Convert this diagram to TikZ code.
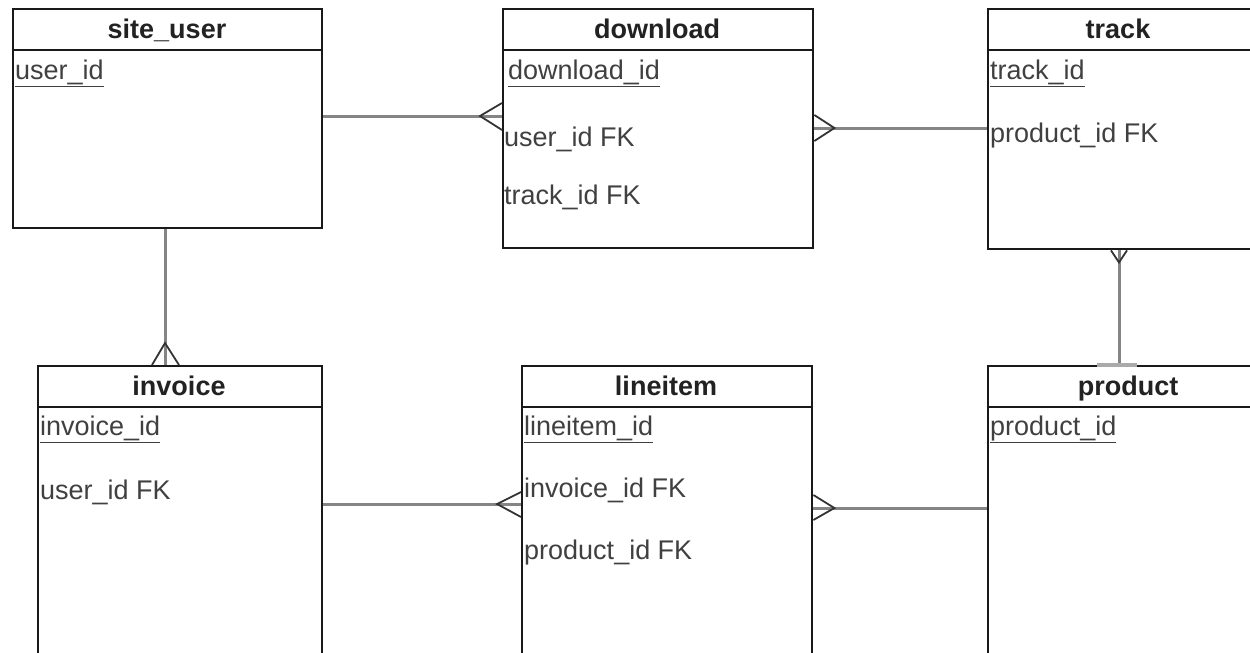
\documentclass[tikz,border=0pt]{standalone}
\usepackage{fontspec}
\setmainfont{Liberation Sans}
\usetikzlibrary{calc}
\definecolor{conngray}{HTML}{858585}
\definecolor{fieldtxt}{HTML}{404040}
\definecolor{titletxt}{HTML}{222222}
\begin{document}
\begin{tikzpicture}[x=1pt,y=-1pt,
  tbl/.style={draw=black!90, line width=2.4pt, fill=white, inner sep=0pt, anchor=north west},
  ttl/.style={font=\fontsize{27}{32}\selectfont\bfseries, text=titletxt, inner sep=0pt, anchor=base},
  fld/.style={font=\fontsize{27}{32}\selectfont, text=fieldtxt, inner sep=0pt, anchor=base west},
  conn/.style={draw=conngray, line width=3pt},
  crow/.style={draw=black!80, line width=1.8pt, line join=miter},
  onebar/.style={draw=conngray!70, line width=3.5pt}]
\useasboundingbox (0,0) rectangle (1250,653);
\begin{scope}
\clip (0,0) rectangle (1250,653);
% tables
\node[tbl, minimum width=309pt, minimum height=219pt] (su) at (12,8) {};
\node[tbl, minimum width=310pt, minimum height=239pt] (dl) at (502,8) {};
\node[tbl, minimum width=280pt, minimum height=240pt] (tr) at (987,8) {};
\node[tbl, minimum width=284pt, minimum height=300pt] (inv) at (37,365) {};
\node[tbl, minimum width=290pt, minimum height=300pt] (li) at (521,365) {};
\node[tbl, minimum width=280pt, minimum height=300pt] (pr) at (987,365) {};
% header separators
\foreach \t in {su,dl,tr,inv,li,pr}{
  \draw[line width=2.4pt, black!90] ($(\t.north west)+(0,42)$) -- ($(\t.north east)+(0,42)$);
}
% titles
\node[ttl] (su-t) at (167,38) {site\_user};
\node[ttl] (dl-t) at (657,38) {download};
\node[ttl] (tr-t) at (1118,38) {track};
\node[ttl] (inv-t) at (179,395) {invoice};
\node[ttl] (li-t) at (666,395) {lineitem};
\node[ttl] (pr-t) at (1128,395) {product};
% fields
\node[fld] (su-f1) at (15,79) {\underline{user\_id}};
\node[fld] (dl-f1) at (508,79) {\underline{download\_id}};
\node[fld] (dl-f2) at (504,146) {user\_id FK};
\node[fld] (dl-f3) at (504,204) {track\_id FK};
\node[fld] (tr-f1) at (990,79) {\underline{track\_id}};
\node[fld] (tr-f2) at (990,142) {product\_id FK};
\node[fld] (inv-f1) at (40,435) {\underline{invoice\_id}};
\node[fld] (inv-f2) at (40,499) {user\_id FK};
\node[fld] (li-f1) at (524,435) {\underline{lineitem\_id}};
\node[fld] (li-f2) at (524,497) {invoice\_id FK};
\node[fld] (li-f3) at (524,559) {product\_id FK};
\node[fld] (pr-f1) at (990,435) {\underline{product\_id}};
% reference levels
\coordinate (ya) at (0,116);
\coordinate (yb) at (0,128);
\coordinate (yc) at (0,504);
\coordinate (yd) at (0,508);
\coordinate (xa) at (1119,0);
\coordinate (xb) at (165,0);
% connectors
\draw[conn] (su.east |- ya) -- (dl.west |- ya);
\draw[conn] (dl.east |- yb) -- (tr.west |- yb);
\draw[conn] (tr.south -| xa) -- (pr.north -| xa);
\draw[conn] (su.south -| xb) -- (inv.north -| xb);
\draw[conn] (inv.east |- yc) -- (li.west |- yc);
\draw[conn] (li.east |- yd) -- (pr.west |- yd);
% crow's feet
\draw[crow] ($(dl.west |- ya)+(0,-13)$) -- ($(dl.west |- ya)+(-22,0)$) -- ($(dl.west |- ya)+(0,14)$);
\draw[crow] ($(dl.east |- yb)+(0,-13)$) -- ($(dl.east |- yb)+(20,0)$) -- ($(dl.east |- yb)+(0,13)$);
\draw[crow] ($(tr.south -| xa)+(-8,0)$) -- ($(tr.south -| xa)+(0,12)$) -- ($(tr.south -| xa)+(8,0)$);
\draw[crow] ($(inv.north -| xb)+(-13,0)$) -- ($(inv.north -| xb)+(0,-22)$) -- ($(inv.north -| xb)+(14,0)$);
\draw[crow] ($(li.west |- yc)+(0,-12)$) -- ($(li.west |- yc)+(-24,0)$) -- ($(li.west |- yc)+(0,13)$);
\draw[crow] ($(li.east |- yd)+(0,-13)$) -- ($(li.east |- yd)+(21,0)$) -- ($(li.east |- yd)+(0,12)$);
% one-bar on product
\draw[onebar] ($(pr.north -| xa)+(-22,0)$) -- ($(pr.north -| xa)+(18,0)$);
\end{scope}
\end{tikzpicture}
\end{document}
